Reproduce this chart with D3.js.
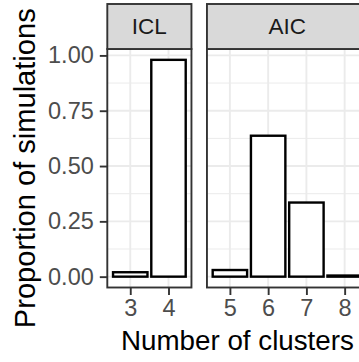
<!DOCTYPE html>
<html>
<head>
<meta charset="utf-8">
<script src="https://cdn.jsdelivr.net/npm/d3@7"></script>
<style>
  html, body { margin: 0; padding: 0; background: #fff; }
  svg { display: block; font-family: "Liberation Sans", Arial, sans-serif; }
</style>
</head>
<body>
<svg id="chart" width="359" height="362"></svg>
<script>
// Proportion of simulations selecting each number of clusters, by criterion
const panels = ["ICL", "AIC"];
const iclClusters = ["3", "4"];
const iclValues = [0.02, 0.98];
const aicClusters = ["5", "6", "7", "8"];
const aicValues = [0.03, 0.637, 0.335, 0.005];
const yTicks = [0, 0.25, 0.5, 0.75, 1];
const yMinor = [0.125, 0.375, 0.625, 0.875];

const panelData = [
  { name: panels[0], cats: iclClusters, vals: iclValues },
  { name: panels[1], cats: aicClusters, vals: aicValues }
];

const svg = d3.select("#chart");

// layout
const panelTop = 49, panelBottom = 287.5, stripTop = 4;
const plotLeft = 107.3;
const unit = 38.25;      // width of one discrete step
const expand = 0.6;      // discrete axis expansion on each side
const gap = 15.5;

// scale a text's font size so that it spans the given width
function fitWidth(sel, target) {
  const fs = parseFloat(sel.attr("font-size"));
  const len = sel.node().getComputedTextLength();
  if (len > 0) sel.attr("font-size", fs * target / len);
}

const yMaxData = d3.max(iclValues.concat(aicValues));
const y = d3.scaleLinear()
  .domain([-0.05 * yMaxData, yMaxData * 1.05])
  .range([panelBottom, panelTop]);

let left = plotLeft;
panelData.forEach(p => {
  const width = (p.cats.length - 1 + 2 * expand) * unit;
  p.x0 = left;
  p.x1 = left + width;
  p.x = d3.scalePoint().domain(p.cats).range([p.x0, p.x1]).padding(expand);
  left = p.x1 + gap;
});

const grid = svg.append("g");
const marks = svg.append("g");
const frames = svg.append("g");
const axes = svg.append("g");

panelData.forEach(p => {
  const clipId = "clip-" + p.name;
  svg.append("clipPath").attr("id", clipId)
    .append("rect").attr("x", p.x0).attr("y", panelTop)
    .attr("width", p.x1 - p.x0).attr("height", panelBottom - panelTop);

  const g = grid.append("g").attr("clip-path", `url(#${clipId})`);
  g.selectAll("line.minor").data(yMinor).join("line")
    .attr("x1", p.x0).attr("x2", p.x1)
    .attr("y1", d => y(d)).attr("y2", d => y(d))
    .attr("stroke", "#EBEBEB").attr("stroke-width", 1);
  g.selectAll("line.majy").data(yTicks).join("line")
    .attr("x1", p.x0).attr("x2", p.x1)
    .attr("y1", d => y(d)).attr("y2", d => y(d))
    .attr("stroke", "#EBEBEB").attr("stroke-width", 1.9);
  g.selectAll("line.majx").data(p.cats).join("line")
    .attr("x1", d => p.x(d)).attr("x2", d => p.x(d))
    .attr("y1", panelTop).attr("y2", panelBottom)
    .attr("stroke", "#EBEBEB").attr("stroke-width", 1.9);

  // bars
  const bw = 0.9 * p.x.step();
  marks.append("g").selectAll("rect").data(p.cats.map((c, i) => ({ c, v: p.vals[i] }))).join("rect")
    .attr("x", d => p.x(d.c) - bw / 2)
    .attr("width", bw)
    .attr("y", d => y(d.v))
    .attr("height", d => y(0) - y(d.v))
    .attr("fill", "#FFFFFF")
    .attr("stroke", "#000000")
    .attr("stroke-width", 2.4);

  // panel border
  frames.append("rect")
    .attr("x", p.x0).attr("y", panelTop)
    .attr("width", p.x1 - p.x0).attr("height", panelBottom - panelTop)
    .attr("fill", "none").attr("stroke", "#333333").attr("stroke-width", 1.9);

  // strip
  frames.append("rect")
    .attr("x", p.x0).attr("y", stripTop)
    .attr("width", p.x1 - p.x0).attr("height", panelTop - stripTop)
    .attr("fill", "#D9D9D9").attr("stroke", "#333333").attr("stroke-width", 1.9);
  frames.append("text")
    .attr("x", (p.x0 + p.x1) / 2).attr("y", (stripTop + panelTop) / 2)
    .attr("text-anchor", "middle").attr("dominant-baseline", "central")
    .attr("font-size", 22.5).attr("fill", "#1A1A1A")
    .text(p.name);

  // x axis
  const xa = axes.append("g")
    .attr("transform", `translate(0,${panelBottom})`)
    .call(d3.axisBottom(p.x).tickSize(7.5).tickPadding(4));
  xa.select(".domain").remove();
  xa.selectAll(".tick line").attr("stroke", "#333333").attr("stroke-width", 1.9);
  xa.selectAll(".tick text").attr("font-size", 23.5).attr("fill", "#4D4D4D")
    .attr("font-family", "Liberation Sans, Arial, sans-serif");
});

// y axis
const ya = axes.append("g")
  .attr("transform", `translate(${plotLeft},0)`)
  .call(d3.axisLeft(y).tickValues(yTicks).tickFormat(d3.format(".2f")).tickSize(7.5).tickPadding(6));
ya.select(".domain").remove();
ya.selectAll(".tick line").attr("stroke", "#333333").attr("stroke-width", 1.9);
ya.selectAll(".tick text").attr("font-size", 23.5).attr("fill", "#4D4D4D")
  .attr("font-family", "Liberation Sans, Arial, sans-serif");

// axis titles
const panelsRight = panelData[panelData.length - 1].x1;
const xTitle = svg.append("text")
  .attr("x", (plotLeft + panelsRight) / 2).attr("y", 350)
  .attr("text-anchor", "middle")
  .attr("font-size", 28).attr("fill", "#000")
  .text("Number of clusters");
fitWidth(xTitle, 233);
const yTitle = svg.append("text")
  .attr("transform", `translate(35,${(panelTop + panelBottom) / 2}) rotate(-90)`)
  .attr("text-anchor", "middle")
  .attr("font-size", 28).attr("fill", "#000")
  .text("Proportion of simulations");
fitWidth(yTitle, 320);
</script>
</body>
</html>
